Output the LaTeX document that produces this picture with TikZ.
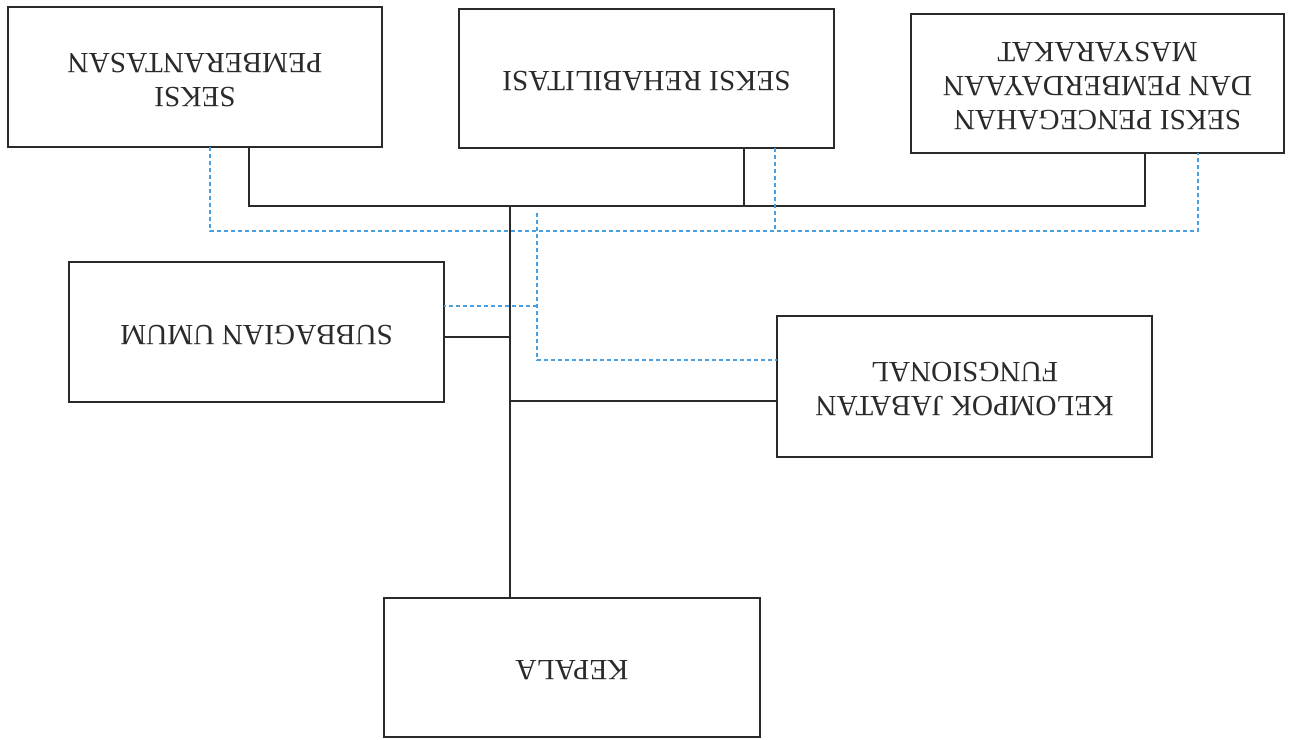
\documentclass[tikz,border=0pt]{standalone}
\usepackage{fontspec}
\usepackage{graphicx}
\setmainfont{Liberation Serif}
\definecolor{boxline}{HTML}{2A2A2A}
\definecolor{dashblue}{HTML}{4A9FE0}
\newcommand{\flip}[1]{\rotatebox[origin=c]{180}{\begin{tabular}{@{}c@{}}#1\end{tabular}}}
\begin{document}
\begin{tikzpicture}[x=1pt,y=-1pt,
  orgbox/.style={draw=boxline, line width=1.6pt, rectangle, inner sep=0pt, outer sep=0pt,
    font=\fontsize{29.3}{34}\selectfont, text=boxline},
  solidlink/.style={draw=boxline, line width=1.6pt},
  dashlink/.style={draw=dashblue, line width=1.3pt, dash pattern=on 4pt off 3pt}]
\useasboundingbox[fill=white] (0,0) rectangle (1289,739);
\node[orgbox, minimum width=374pt, minimum height=140pt] (b1) at (195,77) {\flip{SEKSI\\PEMBERANTASAN}};
\node[orgbox, minimum width=375pt, minimum height=139pt] (b2) at (646.5,78.5) {\flip{SEKSI REHABILITASI}};
\node[orgbox, minimum width=373pt, minimum height=139pt] (b3) at (1097.5,83.5) {\flip{SEKSI PENCEGAHAN\\DAN PEMBERDAYAAN\\MASYARAKAT}};
\node[orgbox, minimum width=375pt, minimum height=140pt] (sub) at (256.5,332) {\flip{SUBBAGIAN UMUM}};
\node[orgbox, minimum width=375pt, minimum height=141pt] (kel) at (964.5,386.5) {\flip{KELOMPOK JABATAN\\FUNGSIONAL}};
\node[orgbox, minimum width=376pt, minimum height=139pt] (kep) at (572,667.5) {\flip{KEPALA}};
% solid connectors
\coordinate (hL) at (249,206);
\coordinate (hR) at (1145,206);
\coordinate (h2) at (744,206);
\coordinate (t) at (510,206);
\coordinate (ts) at (510,337);
\coordinate (tk) at (510,401);
\draw[solidlink] (hL |- b1.south) -- (hL) -- (hR) -- (hR |- b3.south);
\draw[solidlink] (h2 |- b2.south) -- (h2);
\draw[solidlink] (t) -- (t |- kep.north);
\draw[solidlink] (ts -| sub.east) -- (ts);
\draw[solidlink] (tk) -- (tk -| kel.west);
% dashed connectors
\coordinate (dL) at (210,231);
\coordinate (dR) at (1198,231);
\coordinate (d2) at (775,231);
\coordinate (dv) at (537,213);
\coordinate (dk) at (537,360);
\coordinate (ds) at (537,306);
\draw[dashlink] (dL |- b1.south) -- (dL) -- (dR) -- (dR |- b3.south);
\draw[dashlink] (d2 |- b2.south) -- (d2);
\draw[dashlink] (dv) -- (dk) -- (dk -| kel.west);
\draw[dashlink] (ds) -- (ds -| sub.east);
\end{tikzpicture}
\end{document}
